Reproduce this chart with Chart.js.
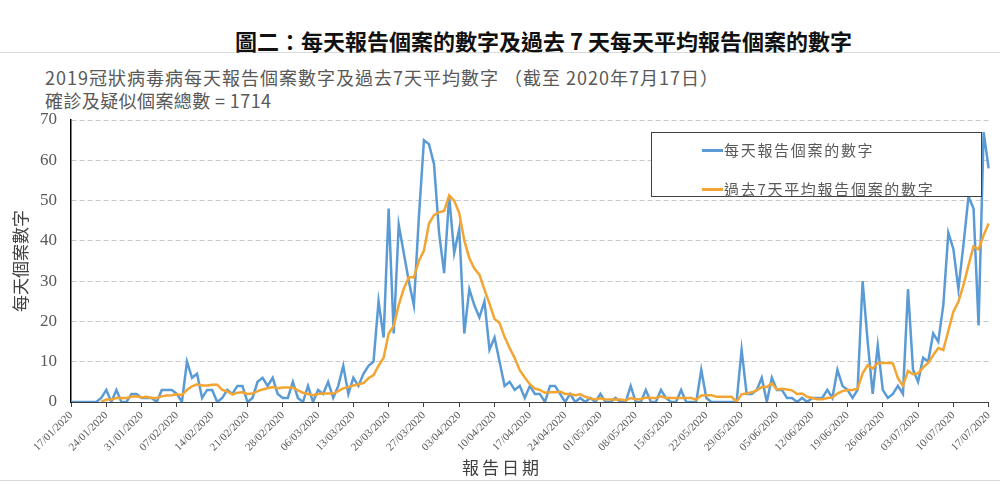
<!DOCTYPE html>
<html>
<head>
<meta charset="utf-8">
<script src="https://cdn.jsdelivr.net/npm/chart.js@4.4.1/dist/chart.umd.min.js"></script>
<style>
body{margin:0;background:#fff;}
#wrap{position:relative;width:1000px;height:485px;overflow:hidden;background:#fff;}
#frame{position:absolute;left:-2px;top:52px;width:1004px;height:427px;border-top:1px solid #d9d9d9;border-bottom:1px solid #d9d9d9;}
.txt{position:absolute;white-space:nowrap;font-family:'Noto Sans CJK TC','Noto Sans',sans-serif;}
#title{left:235px;top:29px;font-size:22px;line-height:22px;font-weight:bold;color:#111;}
#sub1{left:45px;top:68px;font-size:18px;line-height:18px;color:#595959;letter-spacing:1.0px;}
#sub2{left:45px;top:91px;font-size:18px;line-height:18px;color:#595959;letter-spacing:0.4px;}
#xtitle{left:462px;top:458px;font-size:17px;line-height:17px;color:#404040;letter-spacing:3px;}
canvas{position:absolute;left:0;top:0;}
#legend{position:absolute;left:651px;top:132px;width:329px;height:63px;border:1.5px solid #404040;background:#fff;}
.item{position:absolute;left:50px;height:20px;}
.item span.ln{position:absolute;left:0;top:9px;width:21px;height:2.5px;}
.item span.t{position:absolute;left:22px;top:0;font-size:15px;line-height:20px;color:#595959;letter-spacing:1.7px;white-space:nowrap;font-family:'Noto Sans CJK TC',sans-serif;}
</style>
</head>
<body>
<div id="wrap">
<div id="frame"></div>
<div id="title" class="txt">圖二：每天報告個案的數字及過去 7 天每天平均報告個案的數字</div>
<div id="sub1" class="txt">2019冠狀病毒病每天報告個案數字及過去7天平均數字 （截至 2020年7月17日）</div>
<div id="sub2" class="txt">確診及疑似個案總數 = 1714</div>
<canvas id="c" width="1000" height="485"></canvas>
<div id="legend">
  <div class="item" style="top:7px"><span class="ln" style="background:#5b9bd5"></span><span class="t">每天報告個案的數字</span></div>
  <div class="item" style="top:46px"><span class="ln" style="background:#f2a533"></span><span class="t">過去7天平均報告個案的數字</span></div>
</div>
<div id="xtitle" class="txt">報告日期</div>
</div>
<script>
const dates = [
'17/01/2020','18/01/2020','19/01/2020','20/01/2020','21/01/2020','22/01/2020','23/01/2020','24/01/2020','25/01/2020','26/01/2020','27/01/2020','28/01/2020','29/01/2020','30/01/2020','31/01/2020',
'01/02/2020','02/02/2020','03/02/2020','04/02/2020','05/02/2020','06/02/2020','07/02/2020','08/02/2020','09/02/2020','10/02/2020','11/02/2020','12/02/2020','13/02/2020','14/02/2020','15/02/2020','16/02/2020','17/02/2020','18/02/2020','19/02/2020','20/02/2020','21/02/2020','22/02/2020','23/02/2020','24/02/2020','25/02/2020','26/02/2020','27/02/2020','28/02/2020','29/02/2020',
'01/03/2020','02/03/2020','03/03/2020','04/03/2020','05/03/2020','06/03/2020','07/03/2020','08/03/2020','09/03/2020','10/03/2020','11/03/2020','12/03/2020','13/03/2020','14/03/2020','15/03/2020','16/03/2020','17/03/2020','18/03/2020','19/03/2020','20/03/2020','21/03/2020','22/03/2020','23/03/2020','24/03/2020','25/03/2020','26/03/2020','27/03/2020','28/03/2020','29/03/2020','30/03/2020','31/03/2020',
'01/04/2020','02/04/2020','03/04/2020','04/04/2020','05/04/2020','06/04/2020','07/04/2020','08/04/2020','09/04/2020','10/04/2020','11/04/2020','12/04/2020','13/04/2020','14/04/2020','15/04/2020','16/04/2020','17/04/2020','18/04/2020','19/04/2020','20/04/2020','21/04/2020','22/04/2020','23/04/2020','24/04/2020','25/04/2020','26/04/2020','27/04/2020','28/04/2020','29/04/2020','30/04/2020',
'01/05/2020','02/05/2020','03/05/2020','04/05/2020','05/05/2020','06/05/2020','07/05/2020','08/05/2020','09/05/2020','10/05/2020','11/05/2020','12/05/2020','13/05/2020','14/05/2020','15/05/2020','16/05/2020','17/05/2020','18/05/2020','19/05/2020','20/05/2020','21/05/2020','22/05/2020','23/05/2020','24/05/2020','25/05/2020','26/05/2020','27/05/2020','28/05/2020','29/05/2020','30/05/2020','31/05/2020',
'01/06/2020','02/06/2020','03/06/2020','04/06/2020','05/06/2020','06/06/2020','07/06/2020','08/06/2020','09/06/2020','10/06/2020','11/06/2020','12/06/2020','13/06/2020','14/06/2020','15/06/2020','16/06/2020','17/06/2020','18/06/2020','19/06/2020','20/06/2020','21/06/2020','22/06/2020','23/06/2020','24/06/2020','25/06/2020','26/06/2020','27/06/2020','28/06/2020','29/06/2020','30/06/2020',
'01/07/2020','02/07/2020','03/07/2020','04/07/2020','05/07/2020','06/07/2020','07/07/2020','08/07/2020','09/07/2020','10/07/2020','11/07/2020','12/07/2020','13/07/2020','14/07/2020','15/07/2020','16/07/2020','17/07/2020'
];

// weekly labels shown under the axis
const tickDates = ['17/01/2020','24/01/2020','31/01/2020','07/02/2020','14/02/2020','21/02/2020','28/02/2020',
'06/03/2020','13/03/2020','20/03/2020','27/03/2020','03/04/2020','10/04/2020','17/04/2020','24/04/2020',
'01/05/2020','08/05/2020','15/05/2020','22/05/2020','29/05/2020','05/06/2020','12/06/2020','19/06/2020',
'26/06/2020','03/07/2020','10/07/2020','17/07/2020'];

// daily reported cases
const daily = [
0,0,0,0,0,0,1,3,0,3, 0,0,2,2,1,1,1,0,3,3,
3,2,0,10,6,7,1,3,3,0, 1,3,2,4,4,0,1,5,6,4,
6,2,1,1,5,1,0,4,0,3, 2,5,1,4,9,2,6,4,7,9,
10,25,16,48,17,44,37,30,24,46, 65,64,59,42,32,51,37,43,17,28,
24,21,25,13,16,10,4,5,3,4, 1,4,2,2,0,4,4,2,0,2,
0,1,0,1,0,2,0,0,1,0, 0,4,0,0,3,0,0,3,1,0,
0,3,0,0,0,8,1,0,0,0, 0,0,0,13,2,2,3,6,0,6,
3,3,1,1,0,1,0,1,1,1, 3,1,8,4,3,1,3,30,15,2,
14,3,1,2,4,2,28,8,5,11, 10,17,15,24,42,38,28,39,51,48,
19,67,58
];

// average of the past 7 days
const avg7 = [
null,null,null,null,null,null,0.1,0.6,0.6,1.0, 1.0,1.0,1.3,1.4,1.1,1.3,1.0,1.0,1.4,1.6,
1.7,1.9,1.7,3.0,3.9,4.4,4.1,4.1,4.3,4.3, 3.0,2.6,1.9,2.3,2.4,2.0,2.1,2.7,3.1,3.4,
3.7,3.4,3.6,3.6,3.6,2.9,2.3,2.0,1.7,2.0, 2.1,2.1,2.1,2.7,3.4,3.7,4.1,4.4,4.7,5.9,
6.7,9.0,11.0,17.0,18.9,24.1,28.1,31.0,30.9,35.1, 37.6,44.3,46.4,47.1,47.4,51.3,50.0,46.9,40.1,35.7,
33.1,31.6,27.9,24.4,20.6,19.6,16.1,13.4,10.9,7.9, 6.1,4.4,3.3,3.0,2.3,2.4,2.4,2.6,2.0,2.0,
1.7,1.9,1.3,0.9,0.6,0.9,0.6,0.6,0.6,0.6, 0.4,1.0,0.7,0.7,1.1,1.0,1.0,1.4,1.0,1.0,
1.0,1.0,1.0,1.0,0.6,1.6,1.7,1.7,1.3,1.3, 1.3,1.3,0.1,1.9,2.1,2.4,2.9,3.7,3.7,4.6,
3.1,3.3,3.1,2.9,2.0,2.1,1.3,1.0,0.7,0.7, 1.0,1.1,2.1,2.7,3.0,3.0,3.3,7.1,9.1,8.3,
9.7,9.7,9.7,9.6,5.9,4.0,7.7,6.9,7.1,8.6, 9.7,11.6,13.4,12.9,17.7,22.4,24.9,29.0,33.9,38.6,
37.9,41.4,44.3
];

const yTicks = [0,10,20,30,40,50,60,70];

const ctx = document.getElementById('c').getContext('2d');
new Chart(ctx, {
  type: 'line',
  data: {
    labels: dates,
    datasets: [
      {label:'每天報告個案的數字', data: daily, borderColor:'#5b9bd5', borderWidth:2.5, pointRadius:0, tension:0, order:1},
      {label:'過去7天平均報告個案的數字', data: avg7, borderColor:'#f2a533', borderWidth:2.5, pointRadius:0, tension:0, order:0}
    ]
  },
  options: {
    responsive:false,
    animation:false,
    layout:{padding:{top:120, right:10, left:0, bottom:0}},
    plugins:{legend:{display:false}, tooltip:{enabled:false}},
    scales:{
      x:{
        type:'category',
        offset:false,
        afterFit: s => { s.height = 83; },
        grid:{drawOnChartArea:false, drawTicks:true, tickLength:5,
          color: c => tickDates.includes(dates[c.index]) ? '#404040' : 'rgba(0,0,0,0)'},
        border:{display:true, color:'#404040', width:1},
        ticks:{autoSkip:false, maxRotation:45, minRotation:45, padding:2,
          color:'#595959', font:{family:"'Liberation Serif'", size:11},
          callback: function(v, i){ return tickDates.includes(dates[i]) ? dates[i] : ''; }}
      },
      y:{
        min:0, max:70,
        afterFit: s => { s.width = 71; },
        afterBuildTicks: s => { s.ticks = yTicks.map(v => ({value:v})); },
        grid:{drawTicks:false, color: c => c.tick && c.tick.value === 0 ? 'rgba(0,0,0,0)' : '#c8c8c8', lineWidth:1},
        border:{display:true, color:'#000', width:1.5, dash:[5,3]},
        ticks:{padding:14, color:'#595959', font:{family:"'Liberation Serif'", size:17}},
        title:{display:true, text:'每天個案數字', color:'#404040', padding:{top:10, bottom:0},
          font:{family:"'Noto Sans CJK TC'", size:17}}
      }
    }
  }
});
</script>
</body>
</html>
